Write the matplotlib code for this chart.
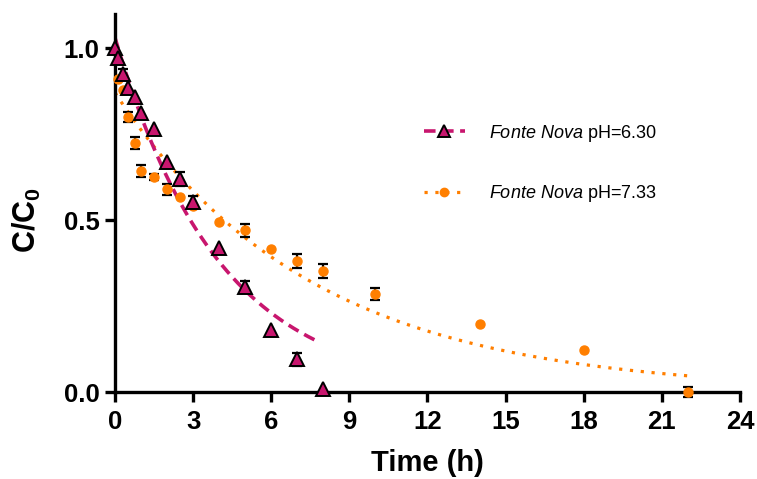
import matplotlib
matplotlib.use("Agg")
import matplotlib.pyplot as plt
import numpy as np

plt.rcParams['font.family'] = ['Liberation Sans', 'DejaVu Sans']
plt.rcParams['mathtext.fontset'] = 'custom'
plt.rcParams['mathtext.rm'] = 'Liberation Sans'
plt.rcParams['mathtext.it'] = 'Liberation Sans:italic'
plt.rcParams['mathtext.bf'] = 'Liberation Sans:bold'

# pH 6.30 measurements
t_630 = [0, 0.1, 0.3, 0.5, 0.75, 1, 1.5, 2, 2.5, 3, 4, 5, 6, 7, 8]
c_630 = [1.0, 0.97, 0.925, 0.885, 0.858, 0.81, 0.765, 0.67, 0.62, 0.553, 0.42, 0.305, 0.18, 0.095, 0.01]
e_630 = [0, 0, 0.015, 0, 0, 0, 0, 0, 0.02, 0.018, 0, 0.018, 0, 0.018, 0]

# pH 7.33 measurements
t_733 = [0.1, 0.3, 0.5, 0.75, 1, 1.5, 2, 2.5, 3, 4, 5, 6, 7, 8, 10, 14, 18, 22]
c_733 = [0.91, 0.878, 0.80, 0.724, 0.643, 0.625, 0.59, 0.567, 0.54, 0.495, 0.47, 0.415, 0.381, 0.352, 0.285, 0.198, 0.122, 0.0]
e_733 = [0, 0, 0.015, 0.018, 0.018, 0.01, 0.016, 0, 0, 0, 0.018, 0, 0.02, 0.02, 0.018, 0, 0, 0.015]

# one-phase decay fits: C/C0 = c0 * exp(-k t)
fit_630 = dict(c0=1.03, k=0.25, t_end=7.8)
fit_733 = dict(c0=0.87, k=0.1326, t_end=22)

pink = '#C8166E'
orange = '#FF7F00'

fig = plt.figure(figsize=(7.57, 4.79), dpi=100)
ax = fig.add_axes([0.1519, 0.1816, 0.8256, 0.7900])

def fit_curve(p):
    tt = np.linspace(0, p['t_end'], 200)
    return tt, p['c0'] * np.exp(-p['k'] * tt)

tt, cc = fit_curve(fit_733)
ax.plot(tt, cc, color=orange, lw=2.3, dashes=(1.0, 2.4), zorder=2)
tt, cc = fit_curve(fit_630)
ax.plot(tt, cc, color=pink, lw=2.6, dashes=(3.2, 1.8), zorder=2)

for t, c, e in [(t_733, c_733, e_733), (t_630, c_630, e_630)]:
    t, c, e = np.array(t), np.array(c), np.array(e)
    m = e > 0
    ax.errorbar(t[m], c[m], yerr=e[m], fmt='none', ecolor='black',
                elinewidth=1.6, capsize=3.6, capthick=1.6, zorder=3, clip_on=False)

ax.plot(t_733, c_733, 'o', color=orange, ms=6.5, mec=orange, zorder=4, clip_on=False)
ax.plot(t_630, c_630, '^', color=pink, ms=10, mec='black', mew=1.4, zorder=5, clip_on=False)

# legend proxies
h1, = ax.plot([], [], color=pink, lw=2.6, dashes=(3.2, 1.8), marker='^', ms=8,
              mfc=pink, mec='black', mew=1.4)
h2, = ax.plot([], [], color=orange, lw=2.3, dashes=(1.0, 2.4), marker='o', ms=6,
              mfc=orange, mec=orange)
ax.legend([h1, h2], [r'$\it{Fonte\ Nova}$ pH=6.30', r'$\it{Fonte\ Nova}$ pH=7.33'],
          loc='upper left', bbox_to_anchor=(0.538, 0.778), bbox_transform=fig.transFigure,
          frameon=False, fontsize=13, numpoints=1, handlelength=2.3,
          handletextpad=1.3, labelspacing=2.2)

ax.set_xlim(0, 24)
ax.set_ylim(0, 1.1)
ax.set_xticks(range(0, 25, 3))
ax.set_yticks([0, 0.5, 1.0])
ax.set_yticklabels(['0.0', '0.5', '1.0'])
for s in ['top', 'right']:
    ax.spines[s].set_visible(False)
for s in ['left', 'bottom']:
    ax.spines[s].set_linewidth(2.4)
ax.tick_params(width=2.4, length=7, labelsize=18.5, pad=4)
ax.tick_params(axis='x', pad=6)
for lab in ax.get_xticklabels() + ax.get_yticklabels():
    lab.set_fontweight('bold')

ax.set_xlabel('Time (h)', fontsize=21, fontweight='bold', labelpad=11)
ax.set_ylabel(r'$\mathbf{C/C_0}$', fontsize=22)
# y label centred on the 0-1 range, not the full axis
ax.yaxis.set_label_coords(-0.115, 0.455)

fig.savefig('out.png', dpi=100)
